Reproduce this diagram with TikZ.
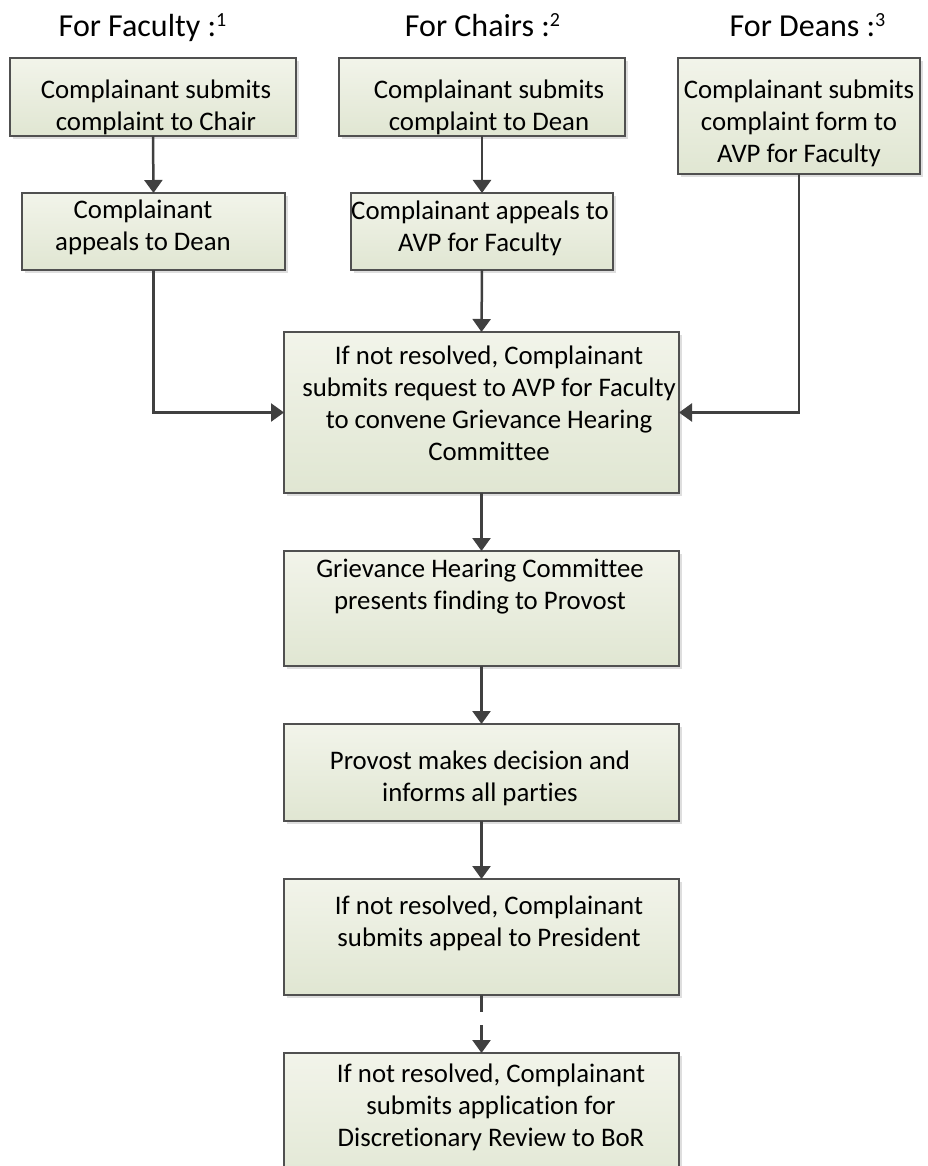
\documentclass[tikz,border=0pt]{standalone}
\usepackage{fontspec}
\setmainfont{Carlito}[Ligatures=NoCommon]
\usetikzlibrary{arrows.meta,shadows}
\definecolor{boxtop}{RGB}{242,244,234}
\definecolor{boxbot}{RGB}{224,230,210}
\definecolor{edgecol}{RGB}{80,80,80}
\definecolor{linecol}{RGB}{64,64,64}
\tikzset{
  stepbox/.style={rectangle, draw=edgecol, line width=1.3pt, top color=boxtop, bottom color=boxbot,
    inner sep=0pt, outer sep=0pt,
    drop shadow={shadow xshift=3pt, shadow yshift=-3pt, fill=black!13, opacity=1}},
  boxtext/.style={inner sep=0pt, align=center, font=\fontsize{26.8}{32}\selectfont, text=black},
  headtext/.style={inner sep=0pt, anchor=base, font=\fontsize{32}{36}\selectfont, text=black},
  conn/.style={draw=linecol, line width=2.5pt, -{Triangle[width=18pt,length=13pt]}}
}
\newcommand{\supnum}[1]{\raisebox{10pt}{\fontsize{20}{20}\selectfont #1}}
\begin{document}
\begin{tikzpicture}[x=1pt,y=-1pt]
\useasboundingbox (0,0) rectangle (927,1166);
% headings
\node[headtext] (h1) at (142.5,37) {For Faculty :\supnum{1}};
\node[headtext] (h2) at (482.5,37) {For Chairs :\supnum{2}};
\node[headtext] (h3) at (807.5,37) {For Deans :\supnum{3}};
% boxes
\node[stepbox, minimum width=286pt, minimum height=78pt] (b1) at (153,97) {};
\node[stepbox, minimum width=263pt, minimum height=77pt] (b2) at (153.5,231.5) {};
\node[stepbox, minimum width=286pt, minimum height=78pt] (b3) at (482,97) {};
\node[stepbox, minimum width=262pt, minimum height=77pt] (b4) at (482,231.5) {};
\node[stepbox, minimum width=242pt, minimum height=116pt] (b5) at (799,116) {};
\node[stepbox, minimum width=395pt, minimum height=161pt] (b6) at (481.5,412.5) {};
\node[stepbox, minimum width=395pt, minimum height=115pt] (b7) at (481.5,608.5) {};
\node[stepbox, minimum width=395pt, minimum height=97pt] (b8) at (481.5,772.5) {};
\node[stepbox, minimum width=395pt, minimum height=116pt] (b9) at (481.5,937) {};
\node[stepbox, minimum width=395pt, minimum height=147pt] (b10) at (481.5,1126.5) {};
% texts
\node[boxtext] (t1) at (156,107.5) {Complainant submits\\complaint to Chair};
\node[boxtext] (t2) at (143,227) {Complainant\\appeals to Dean};
\node[boxtext] (t3) at (489,107.5) {Complainant submits\\complaint to Dean};
\node[boxtext] (t4) at (480,228) {Complainant appeals to\\AVP for Faculty};
\node[boxtext] (t5) at (799,123.5) {Complainant submits\\complaint form to\\AVP for Faculty};
\node[boxtext] (t6) at (489,403) {If not resolved, Complainant\\submits request to AVP for Faculty\\to convene Grievance Hearing\\Committee};
\node[boxtext] (t7) at (480,586.5) {Grievance Hearing Committee\\presents finding to Provost};
\node[boxtext] (t8) at (480,778.5) {Provost makes decision and\\informs all parties};
\node[boxtext] (t9) at (489,923) {If not resolved, Complainant\\submits appeal to President};
\node[boxtext] (t10) at (491,1107.5) {If not resolved, Complainant\\submits application for\\Discretionary Review to BoR};
% connectors
\draw[conn] (b1.south) -- (b2.north);
\draw[conn] (b3.south) -- (b4.north);
\draw[conn] (b2.south) |- (b6.west);
\draw[conn] (b5.south) |- (b6.east);
\draw[conn] (b4.south) -- (b6.north);
\draw[conn] (b6.south) -- (b7.north);
\draw[conn] (b7.south) -- (b8.north);
\draw[conn] (b8.south) -- (b9.north);
\draw[conn, dash pattern=on 17pt off 13pt on 100pt] (b9.south) -- (b10.north);
\end{tikzpicture}
\end{document}
